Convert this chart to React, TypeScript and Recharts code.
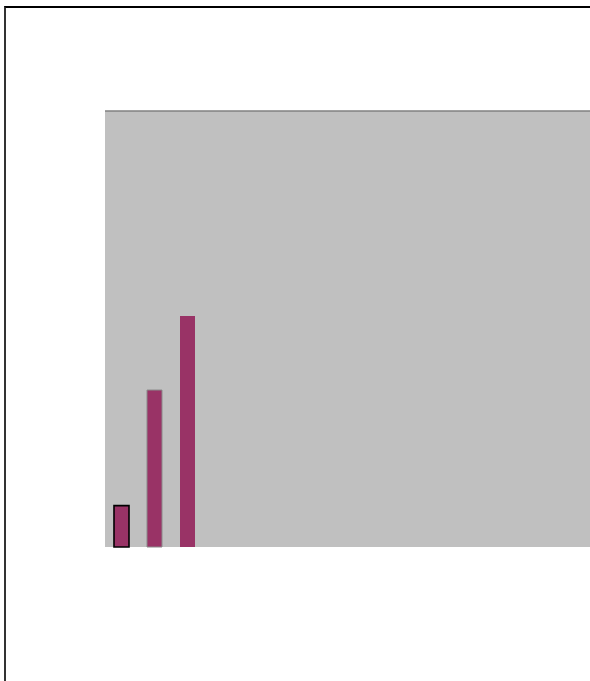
import React from "react";
import { BarChart, Bar, XAxis, YAxis, CartesianGrid, ReferenceLine, Cell } from "recharts";

const categories = ["1", "2", "3", "4", "5", "6", "7", "8", "9", "10", "11", "12", "13", "14", "15", "16"];
const values: (number | null)[] = [9.5, 36, 53, null, null, null, null, null, null, null, null, null, null, null, null, null];
const yDomain: [number, number] = [0, 100];

const BAR_STROKES = ["#000000", "#8a8a8a", "none"];
const BAR_STROKE_WIDTHS = [1.6, 1, 0];

const data = categories.map((c, i) => ({ category: c, value: values[i] }));

export default function App() {
  return (
    <div style={{ position: "fixed", left: 0, top: 0, width: 590, height: 681, overflow: "hidden", background: "#fff" }}>
      <div
        style={{
          position: "absolute",
          left: 4,
          top: 6,
          width: 900,
          height: 900,
          borderTop: "2px solid #000",
          borderLeft: "2px solid #333",
          boxSizing: "border-box",
        }}
      />
      <div style={{ position: "absolute", left: 0, top: 0 }}>
        <BarChart
          width={700}
          height={720}
          data={data}
          margin={{ top: 111, left: 105, right: 67, bottom: 173 }}
          barSize={15}
        >
          <CartesianGrid horizontal={false} vertical={false} fill="#C0C0C0" />
          <XAxis dataKey="category" tick={false} tickLine={false} axisLine={{ stroke: "#808080", strokeWidth: 1.5 }} height={0} />
          <YAxis domain={yDomain} tick={false} tickLine={false} axisLine={{ stroke: "#808080", strokeWidth: 1.5 }} width={0} />
          <ReferenceLine y={yDomain[1]} stroke="#808080" strokeWidth={1.5} />
          <Bar dataKey="value" fill="#993366" isAnimationActive={false}>
            {data.map((d, i) => (
              <Cell key={d.category} stroke={BAR_STROKES[i] ?? "none"} strokeWidth={BAR_STROKE_WIDTHS[i] ?? 0} />
            ))}
          </Bar>
        </BarChart>
      </div>
    </div>
  );
}
